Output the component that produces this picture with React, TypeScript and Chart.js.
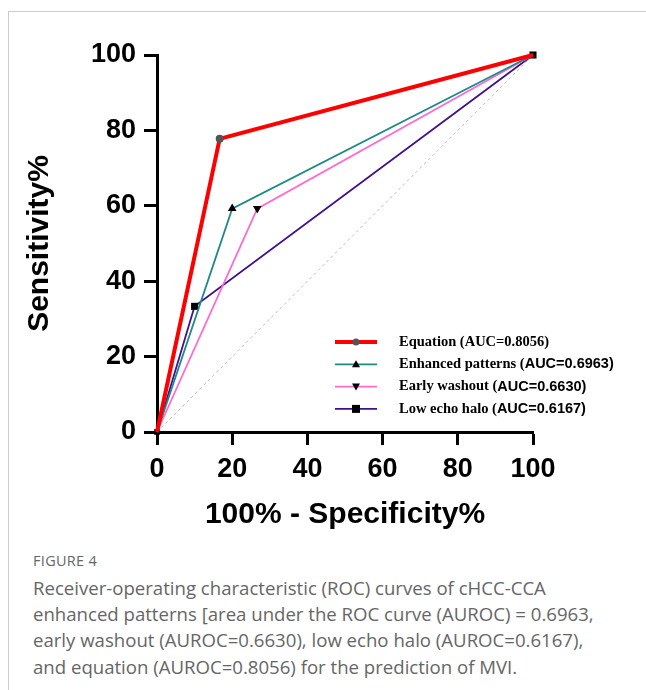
import React, { useEffect, useRef } from 'react';
import { Chart, registerables } from 'chart.js';

Chart.register(...registerables);

const seriesLabels = ['Equation', 'Enhanced patterns', 'Early washout', 'Low echo halo'];
const aucLabels = ['AUC=0.8056)', 'AUC=0.6963)', 'AUC=0.6630)', 'AUC=0.6167)'];
const seriesColors = ['#ff0000', '#1e8a87', '#ff6ad2', '#41108f'];

const equationX = [0, 16.67, 100];
const equationY = [0, 77.78, 100];
const enhancedX = [0, 20, 100];
const enhancedY = [0, 59.26, 100];
const washoutX = [0, 26.67, 100];
const washoutY = [0, 59.26, 100];
const haloX = [0, 10, 100];
const haloY = [0, 33.33, 100];
const diagonalX = [0, 100];
const diagonalY = [0, 100];

const axisTicks = [0, 20, 40, 60, 80, 100];

const toPoints = (xs: number[], ys: number[]) => xs.map((x, i) => ({ x, y: ys[i] }));

const legendPlugin = {
  id: 'insideLegend',
  afterDatasetsDraw(chart: any) {
    const ctx = chart.ctx;
    const startY = 342;
    const gap = 22.3;
    ctx.save();
    seriesLabels.forEach((name, i) => {
      const y = startY + i * gap;
      const ds = chart.data.datasets[i];
      ctx.strokeStyle = ds.borderColor;
      ctx.lineWidth = ds.borderWidth;
      ctx.beginPath();
      ctx.moveTo(335, y);
      ctx.lineTo(377, y);
      ctx.stroke();
      const cx = 356;
      ctx.fillStyle = i === 0 ? '#555' : '#000';
      ctx.beginPath();
      if (i === 0) {
        ctx.arc(cx, y, 3.5, 0, Math.PI * 2);
      } else if (i === 1) {
        ctx.moveTo(cx, y - 4);
        ctx.lineTo(cx + 4, y + 3);
        ctx.lineTo(cx - 4, y + 3);
        ctx.closePath();
      } else if (i === 2) {
        ctx.moveTo(cx, y + 4);
        ctx.lineTo(cx + 4, y - 3);
        ctx.lineTo(cx - 4, y - 3);
        ctx.closePath();
      } else {
        ctx.rect(cx - 4, y - 4, 8, 8);
      }
      ctx.fill();
      ctx.fillStyle = '#000';
      ctx.textBaseline = 'middle';
      ctx.textAlign = 'left';
      const serifPart = name + ' (';
      ctx.font = 'bold 14.5px "Liberation Serif"';
      ctx.fillText(serifPart, 399, y);
      const w = ctx.measureText(serifPart).width;
      if (i === 0) {
        ctx.fillText(aucLabels[i], 399 + w, y);
      } else {
        ctx.font = 'bold 14.5px "Liberation Sans"';
        ctx.fillText(aucLabels[i], 399 + w, y);
      }
    });
    ctx.restore();
  },
};

export default function App() {
  const canvasRef = useRef<HTMLCanvasElement | null>(null);

  useEffect(() => {
    if (!canvasRef.current) return;
    const tickFont = { family: '"Liberation Sans", Arial', size: 27, weight: 'bold' as const };
    const titleFont = { family: '"Liberation Sans", Arial', size: 30, weight: 'bold' as const };
    const chart = new Chart(canvasRef.current, {
      type: 'line',
      data: {
        datasets: [
          {
            label: seriesLabels[0],
            data: toPoints(equationX, equationY),
            borderColor: seriesColors[0],
            backgroundColor: '#555',
            borderWidth: 4,
            pointStyle: 'circle',
            pointRadius: [0, 4, 0],
            pointBorderWidth: 0,
            clip: false,
          },
          {
            label: seriesLabels[1],
            data: toPoints(enhancedX, enhancedY),
            borderColor: seriesColors[1],
            backgroundColor: '#000',
            borderWidth: 1.8,
            pointStyle: 'triangle',
            pointRadius: [0, 5, 0],
            pointBorderWidth: 0,
            clip: false,
          },
          {
            label: seriesLabels[2],
            data: toPoints(washoutX, washoutY),
            borderColor: seriesColors[2],
            backgroundColor: '#000',
            borderWidth: 1.8,
            pointStyle: 'triangle',
            pointRotation: 180,
            pointRadius: [0, 5, 0],
            pointBorderWidth: 0,
            clip: false,
          },
          {
            label: seriesLabels[3],
            data: toPoints(haloX, haloY),
            borderColor: seriesColors[3],
            backgroundColor: '#000',
            borderWidth: 1.8,
            pointStyle: 'rect',
            pointRadius: [4, 5, 5],
            pointBorderWidth: 0,
            clip: false,
          },
          {
            label: 'diagonal',
            data: toPoints(diagonalX, diagonalY),
            borderColor: '#bbbbbb',
            borderWidth: 1,
            borderDash: [3, 3],
            pointRadius: 0,
            clip: false,
          },
        ],
      },
      options: {
        animation: false,
        responsive: false,
        maintainAspectRatio: false,
        layout: { padding: { top: 55, right: 113, bottom: 0, left: 0 } },
        plugins: {
          legend: { display: false },
          tooltip: { enabled: false },
        },
        elements: { line: { tension: 0 } },
        scales: {
          x: {
            type: 'linear',
            min: 0,
            max: 100,
            afterBuildTicks: (s: any) => {
              s.ticks = axisTicks.map((v) => ({ value: v }));
            },
            afterFit: (s: any) => {
              s.height = 108;
            },
            ticks: { font: tickFont, color: '#000', padding: 8, maxRotation: 0 },
            grid: { drawOnChartArea: false, drawTicks: true, tickLength: 13, tickWidth: 3, tickColor: '#000' },
            border: { display: true, color: '#000', width: 3 },
            title: { display: true, text: '100% - Specificity%', font: titleFont, color: '#000', padding: { top: 0, bottom: 7 } },
          },
          y: {
            type: 'linear',
            min: 0,
            max: 100,
            afterBuildTicks: (s: any) => {
              s.ticks = axisTicks.map((v) => ({ value: v }));
            },
            afterFit: (s: any) => {
              s.width = 157;
            },
            ticks: { font: tickFont, color: '#000', padding: 8 },
            grid: { drawOnChartArea: false, drawTicks: true, tickLength: 13, tickWidth: 3, tickColor: '#000' },
            border: { display: true, color: '#000', width: 3 },
            title: { display: true, text: 'Sensitivity%', font: titleFont, color: '#000', padding: { top: 22, bottom: 0 } },
          },
        },
      },
      plugins: [legendPlugin],
    });
    return () => chart.destroy();
  }, []);

  return (
    <div style={{ position: 'absolute', left: 0, top: 0, width: 646, height: 690, overflow: 'hidden', background: '#fff' }}>
      <div
        style={{
          position: 'absolute',
          left: 8,
          top: 11,
          width: 700,
          height: 700,
          borderTop: '1px solid #cccccc',
          borderLeft: '1px solid #cccccc',
        }}
      />
      <canvas ref={canvasRef} width={646} height={540} style={{ position: 'absolute', left: 0, top: 0, width: 646, height: 540 }} />
      <div
        style={{
          position: 'absolute',
          left: 33,
          top: 551,
          fontFamily: '"Open Sans", "Noto Sans", sans-serif',
          color: '#666',
          fontSize: 14.5,
          letterSpacing: 0.3,
        }}
      >
        FIGURE 4
      </div>
      <div
        style={{
          position: 'absolute',
          left: 33,
          top: 575,
          width: 612,
          whiteSpace: 'nowrap',
          fontFamily: '"Open Sans", "Noto Sans", sans-serif',
          color: '#666',
          fontSize: 18.6,
          lineHeight: '26.2px',
        }}
      >
        Receiver-operating characteristic (ROC) curves of cHCC-CCA
        <br />
        enhanced patterns [area under the ROC curve (AUROC) = 0.6963,
        <br />
        early washout (AUROC=0.6630), low echo halo (AUROC=0.6167),
        <br />
        and equation (AUROC=0.8056) for the prediction of MVI.
      </div>
    </div>
  );
}
